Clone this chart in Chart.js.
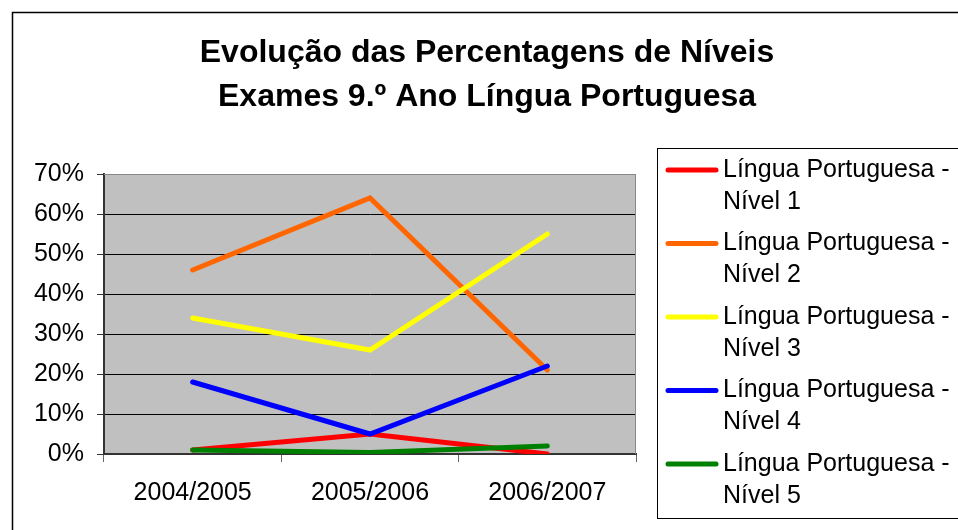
<!DOCTYPE html>
<html>
<head>
<meta charset="utf-8">
<script src="https://cdn.jsdelivr.net/npm/chart.js@4"></script>
<style>
  body { margin: 0; background: #fff; }
  canvas { display: block; }
</style>
</head>
<body>
<canvas id="niveisChart" width="958" height="530"></canvas>
<script>
const titleLines = ['Evolução das Percentagens de Níveis', 'Exames 9.º Ano Língua Portuguesa'];
const categories = ['2004/2005', '2005/2006', '2006/2007'];
const seriesNames = [
    'Língua Portuguesa - Nível 1',
    'Língua Portuguesa - Nível 2',
    'Língua Portuguesa - Nível 3',
    'Língua Portuguesa - Nível 4',
    'Língua Portuguesa - Nível 5'
];
const nivel1 = [1, 5, 0];
const nivel2 = [46, 64, 21];
const nivel3 = [34, 26, 55];
const nivel4 = [18, 5, 22];
const nivel5 = [1, 0.4, 2];
const seriesColors = ['#ff0000', '#ff6600', '#ffff00', '#0000ff', '#008000'];
const yMax = 70;
const yStep = 10;

const FONT = '"Liberation Sans", Arial, sans-serif';

// background, plot area, outer frame, title and legend (two-line labels)
const excelLook = {
    id: 'excelLook',
    beforeDraw(chart) {
        const c = chart.ctx, a = chart.chartArea;
        c.save();
        c.fillStyle = '#fff';
        c.fillRect(0, 0, chart.width, chart.height);
        c.fillStyle = '#c0c0c0';
        c.fillRect(a.left, a.top, a.right - a.left, a.bottom - a.top);
        c.strokeStyle = '#000';
        c.lineWidth = 1.5;
        c.strokeRect(12.5, 12.5, 1200, 1200);
        c.restore();
    },
    afterDraw(chart) {
        const c = chart.ctx, a = chart.chartArea;
        c.save();
        // plot border top/right
        c.strokeStyle = '#888';
        c.lineWidth = 1;
        c.beginPath();
        c.moveTo(a.left, a.top + 0.5);
        c.lineTo(a.right - 0.5, a.top + 0.5);
        c.lineTo(a.right - 0.5, a.bottom);
        c.stroke();

        // title
        c.fillStyle = '#000';
        c.font = 'bold 32px ' + FONT;
        c.textAlign = 'center';
        c.textBaseline = 'middle';
        titleLines.forEach((t, i) => c.fillText(t, 487, 53 + i * 44));

        // legend
        c.strokeStyle = '#000';
        c.lineWidth = 1;
        c.strokeRect(657.5, 148.5, 400, 370);
        c.font = '25px ' + FONT;
        c.textAlign = 'left';
        chart.data.datasets.forEach((ds, i) => {
            const y = 170 + i * 73.5;
            c.strokeStyle = ds.borderColor;
            c.lineWidth = 5;
            c.lineCap = 'round';
            c.beginPath();
            c.moveTo(668, y);
            c.lineTo(716, y);
            c.stroke();
            const cut = ds.label.indexOf(' - ') + 2;
            c.fillStyle = '#000';
            c.fillText(ds.label.slice(0, cut), 723, y);
            c.fillText(ds.label.slice(cut + 1), 723, y + 32);
        });
        c.restore();
    }
};

const allSeries = [nivel1, nivel2, nivel3, nivel4, nivel5];

new Chart(document.getElementById('niveisChart'), {
    type: 'line',
    data: {
        labels: categories,
        datasets: allSeries.map((vals, i) => ({
            label: seriesNames[i],
            data: vals,
            borderColor: seriesColors[i],
            backgroundColor: seriesColors[i],
            borderWidth: 5,
            borderCapStyle: 'round',
            pointRadius: 0,
            tension: 0,
            fill: false,
            order: allSeries.length - 1 - i
        }))
    },
    options: {
        responsive: false,
        animation: false,
        layout: { padding: { left: 0, top: 174, right: 322, bottom: 0 } },
        plugins: {
            legend: { display: false },
            title: { display: false },
            tooltip: { enabled: false }
        },
        scales: {
            x: {
                offset: true,
                grid: { offset: true, drawOnChartArea: false, color: '#666', tickLength: 8 },
                border: { color: '#333', width: 2 },
                ticks: { color: '#000', font: { family: FONT, size: 25 }, padding: 16, maxRotation: 0 },
                afterFit: s => { s.height = 76; }
            },
            y: {
                min: 0,
                max: yMax,
                grid: {
                    color: ctx => ctx.tick && ctx.tick.value === yMax ? '#888' : '#000',
                    tickColor: '#333',
                    tickLength: 7
                },
                border: { color: '#333', width: 2 },
                ticks: {
                    stepSize: yStep,
                    color: '#000',
                    font: { family: FONT, size: 25 },
                    padding: 13,
                    callback: v => v + '%'
                },
                afterFit: s => { s.width = 104; }
            }
        }
    },
    plugins: [excelLook]
});
</script>
</body>
</html>
